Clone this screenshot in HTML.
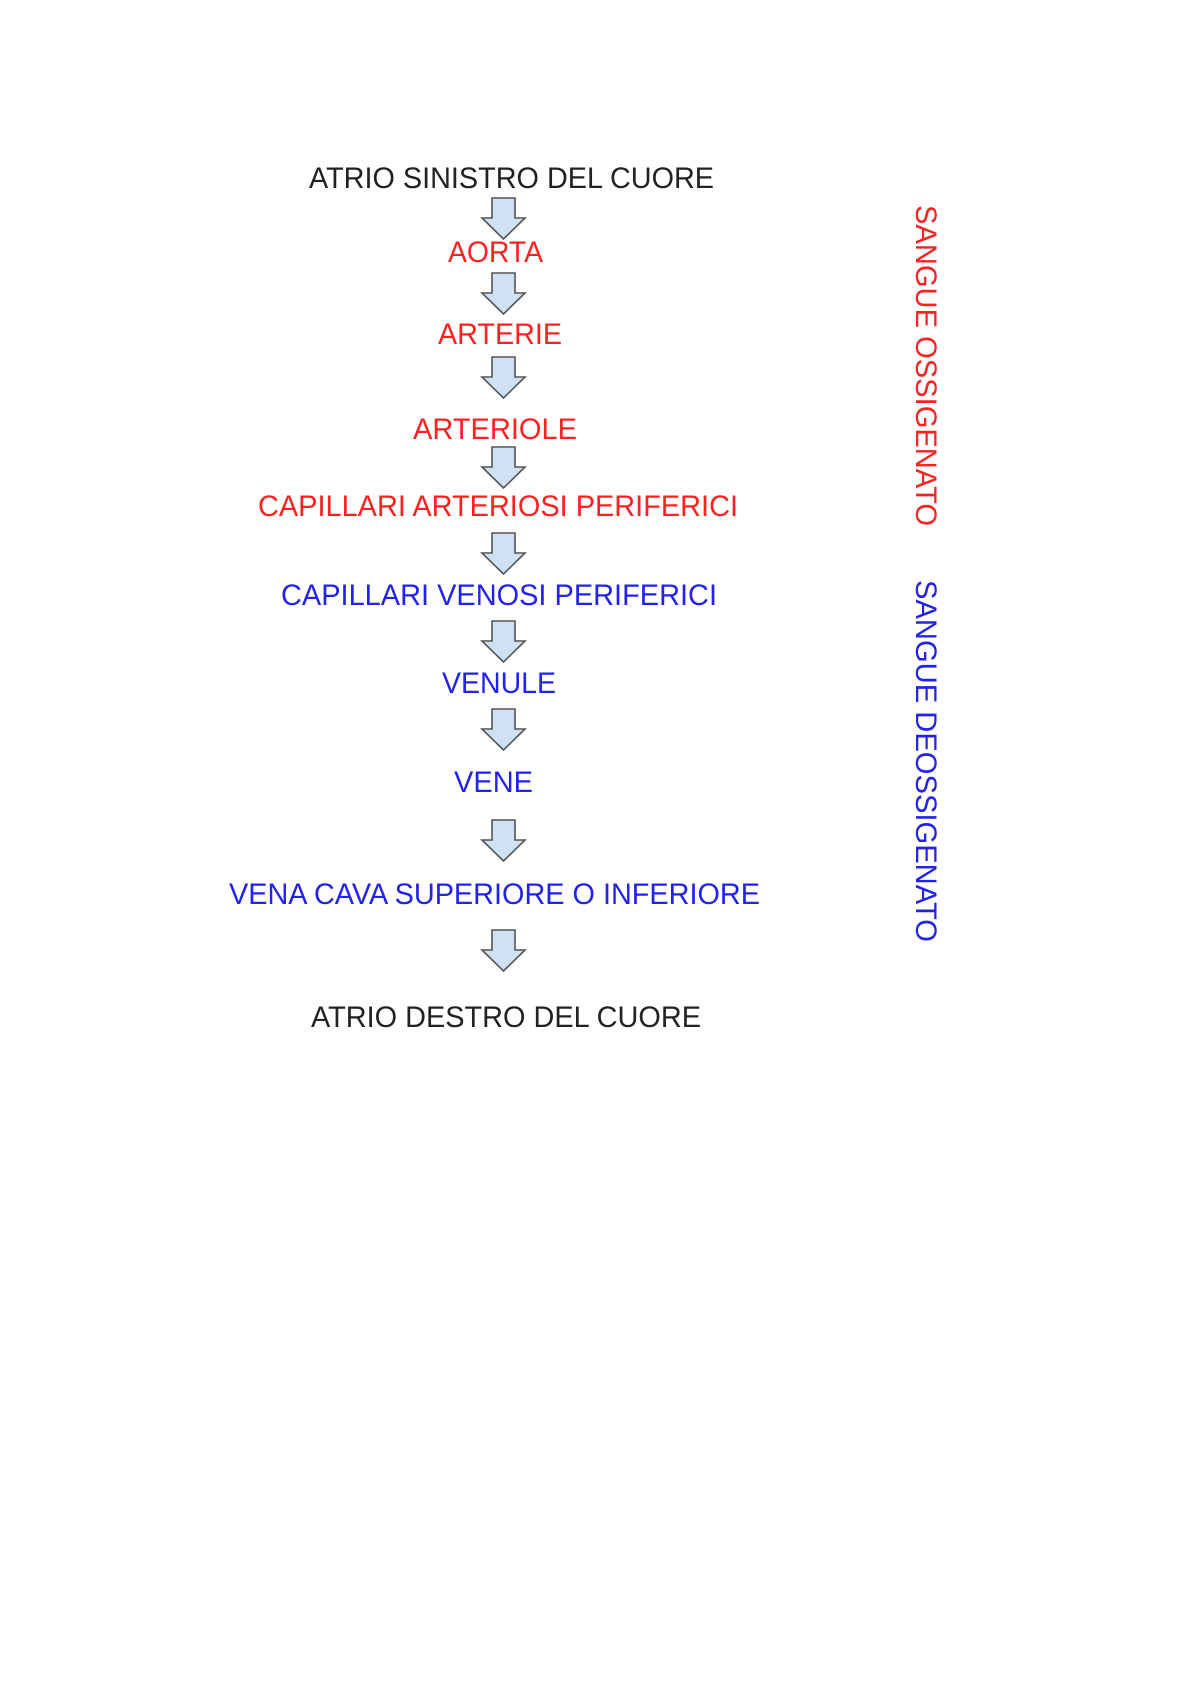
<!DOCTYPE html>
<html><head><meta charset="utf-8"><style>
html,body{margin:0;padding:0;background:#fff;}
svg{display:block;}
text{font-family:"Liberation Sans",Arial,sans-serif;font-size:30px;}
</style></head><body>
<svg width="1192" height="1684" viewBox="0 0 1192 1684" xmlns="http://www.w3.org/2000/svg">
<defs>
<g id="ar"><path d="M-11.5,0 H11.5 V20 H21.5 L0,41 L-21.5,20 H-11.5 Z" fill="#cfe2f3" stroke="#555" stroke-width="1.6" stroke-linejoin="miter"/></g>
</defs>
<rect width="1192" height="1684" fill="#fff"/>
<text x="309" y="188" textLength="405" lengthAdjust="spacingAndGlyphs" fill="#222">ATRIO SINISTRO DEL CUORE</text>
<use href="#ar" x="503.5" y="198"/>
<text x="448" y="262" textLength="95" lengthAdjust="spacingAndGlyphs" fill="#ff2020">AORTA</text>
<use href="#ar" x="503.5" y="273"/>
<text x="438" y="344" textLength="124" lengthAdjust="spacingAndGlyphs" fill="#ff2020">ARTERIE</text>
<use href="#ar" x="503.5" y="357"/>
<text x="413" y="439" textLength="164" lengthAdjust="spacingAndGlyphs" fill="#ff2020">ARTERIOLE</text>
<use href="#ar" x="503.5" y="447"/>
<text x="258" y="516" textLength="480" lengthAdjust="spacingAndGlyphs" fill="#ff2020">CAPILLARI ARTERIOSI PERIFERICI</text>
<use href="#ar" x="503.5" y="533"/>
<text x="281" y="605" textLength="436" lengthAdjust="spacingAndGlyphs" fill="#2222ee">CAPILLARI VENOSI PERIFERICI</text>
<use href="#ar" x="503.5" y="621"/>
<text x="442" y="693" textLength="114" lengthAdjust="spacingAndGlyphs" fill="#2222ee">VENULE</text>
<use href="#ar" x="503.5" y="709"/>
<text x="454" y="792" textLength="79" lengthAdjust="spacingAndGlyphs" fill="#2222ee">VENE</text>
<use href="#ar" x="503.5" y="820"/>
<text x="229" y="904" textLength="531" lengthAdjust="spacingAndGlyphs" fill="#2222ee">VENA CAVA SUPERIORE O INFERIORE</text>
<use href="#ar" x="503.5" y="930"/>
<text x="311" y="1027" textLength="390" lengthAdjust="spacingAndGlyphs" fill="#222">ATRIO DESTRO DEL CUORE</text>
<text transform="translate(916,205) rotate(90)" textLength="321" lengthAdjust="spacingAndGlyphs" fill="#ff2020">SANGUE OSSIGENATO</text>
<text transform="translate(916,580) rotate(90)" textLength="362" lengthAdjust="spacingAndGlyphs" fill="#2222ee">SANGUE DEOSSIGENATO</text>
</svg>
</body></html>
